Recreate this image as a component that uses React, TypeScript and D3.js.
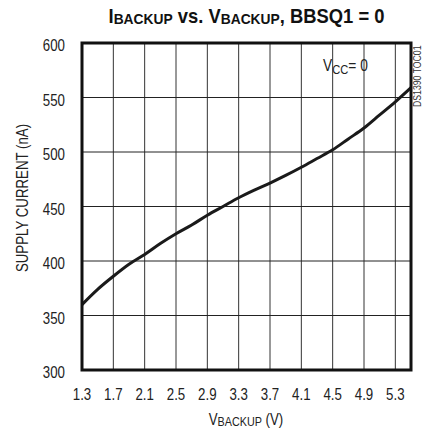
import React from "react";
import * as d3 from "d3";

const vBackup = [1.3, 1.5, 1.7, 1.9, 2.1, 2.3, 2.5, 2.7, 2.9, 3.1, 3.3, 3.5, 3.7, 3.9, 4.1, 4.3, 4.5, 4.7, 4.9, 5.1, 5.3, 5.5];
const supplyCurrent = [360, 374, 386, 397, 406, 416, 425, 433, 442, 450, 458, 465, 471.5, 478.5, 486, 494, 502, 512, 522, 534, 546, 559];
const xTicks = [1.3, 1.7, 2.1, 2.5, 2.9, 3.3, 3.7, 4.1, 4.5, 4.9, 5.3];
const yTicks = [300, 350, 400, 450, 500, 550, 600];

const W = 425;
const H = 436;
const M = { left: 82, right: 411, top: 43, bottom: 370 };
const FONT = "'Liberation Sans', Arial, Helvetica, sans-serif";
const SX = 0.83;

function CText({
  x,
  y,
  sx = SX,
  rot = 0,
  children,
  ...rest
}: {
  x: number;
  y: number;
  sx?: number;
  rot?: number;
  children: React.ReactNode;
  [k: string]: any;
}) {
  return (
    <text transform={`translate(${x},${y}) rotate(${rot}) scale(${sx},1)`} {...rest}>
      {children}
    </text>
  );
}

export default function App() {
  const x = d3.scaleLinear().domain([1.3, 5.5]).range([M.left, M.right]);
  const y = d3.scaleLinear().domain([300, 600]).range([M.bottom, M.top]);
  const pts: [number, number][] = vBackup.map((v, i) => [v, supplyCurrent[i]]);
  const line = d3
    .line<[number, number]>()
    .x((d) => x(d[0]))
    .y((d) => y(d[1]))
    .curve(d3.curveMonotoneX);

  return (
    <svg
      width={W}
      height={H}
      style={{ position: "absolute", left: 0, top: 0, background: "#fff" }}
      fontFamily={FONT}
    >
      <rect x={0} y={0} width={W} height={H} fill="#fff" />
      {/* title */}
      <CText x={(M.left + M.right) / 2} y={23} sx={0.92} textAnchor="middle" fontWeight="bold" fontSize={20} fill="#111">
        <tspan>I</tspan>
        <tspan fontSize={15} dy={1}>BACKUP</tspan>
        <tspan dy={-1}> vs. V</tspan>
        <tspan fontSize={15} dy={1}>BACKUP</tspan>
        <tspan dy={-1}>, BBSQ1 = 0</tspan>
      </CText>

      {/* grid */}
      {xTicks.map((t) => (
        <line key={"gx" + t} x1={x(t)} x2={x(t)} y1={M.top} y2={M.bottom} stroke="#333" strokeWidth={1} />
      ))}
      {yTicks.map((t) => (
        <line key={"gy" + t} x1={M.left} x2={M.right} y1={y(t)} y2={y(t)} stroke="#222" strokeWidth={1} />
      ))}

      {/* curve */}
      <path d={line(pts) || ""} fill="none" stroke="#1a1a1a" strokeWidth={3} />

      {/* frame */}
      <rect
        x={M.left}
        y={M.top}
        width={M.right - M.left}
        height={M.bottom - M.top}
        fill="none"
        stroke="#111"
        strokeWidth={3}
      />

      {/* tick labels */}
      {xTicks.map((t) => (
        <CText key={"tx" + t} x={x(t)} y={400} textAnchor="middle" fontSize={16} fill="#222">
          {t.toFixed(1)}
        </CText>
      ))}
      {yTicks.map((t) => (
        <CText key={"ty" + t} x={65} y={y(t) + 8} textAnchor="end" fontSize={16} fill="#222">
          {t}
        </CText>
      ))}

      {/* axis titles */}
      <CText x={246} y={425} textAnchor="middle" fontSize={16} fill="#222">
        <tspan>V</tspan>
        <tspan fontSize={13} dy={1}>BACKUP</tspan>
        <tspan dy={-1}> (V)</tspan>
      </CText>
      <CText x={28} y={198} rot={-90} textAnchor="middle" fontSize={16} fill="#222">
        SUPPLY CURRENT (nA)
      </CText>

      {/* annotations */}
      <CText x={323} y={71} sx={0.86} fontSize={16} fill="#222">
        <tspan>V</tspan>
        <tspan fontSize={13} dy={3}>CC</tspan>
        <tspan dy={-3}>= 0</tspan>
      </CText>
      <CText x={420.5} y={107} rot={-90} sx={0.87} fontSize={10} fill="#333">
        DS1390 TOC01
      </CText>
    </svg>
  );
}
